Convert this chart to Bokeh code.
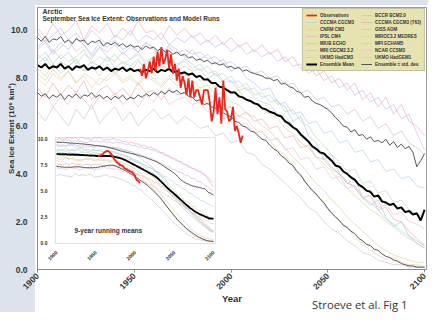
import math
import pandas as pd
from bokeh.plotting import figure
from bokeh.models import (Range1d, LinearAxis, FixedTicker, PrintfTickFormatter,
                          BoxAnnotation, Label, Legend, LegendItem, Title)
from bokeh.embed import file_html
from bokeh.resources import INLINE

# ---------------- data ----------------
x_ticks = [1900, 1950, 2000, 2050, 2100]
y_ticks = [0, 2, 4, 6, 8, 10]
inset_x_ticks = [1900, 1950, 2000, 2050, 2100]
inset_y_ticks = [0, 2.5, 5, 7.5, 10]

obs_years = list(range(1953, 2007))
observations = [8.4, 8.1, 8.6, 8.0, 8.3, 8.7, 8.2, 8.9, 8.3, 9.1,
                8.5, 9.3, 8.6, 8.8, 9.2, 8.4, 9.0, 8.2, 8.6, 7.9,
                8.4, 7.6, 8.1, 7.8, 7.3, 8.0, 7.2, 7.9, 7.2, 7.5,
                7.5, 7.2, 6.9, 7.5, 7.5, 7.5, 7.0, 6.2, 6.6, 7.6,
                6.5, 7.2, 6.1, 7.9, 6.7, 6.6, 6.2, 6.3, 6.8, 5.8,
                6.0, 5.7, 5.3, 5.6]

ens_years = list(range(1900, 2101, 2))
ensemble_mean = [8.55, 8.45, 8.60, 8.40, 8.50, 8.45, 8.60, 8.40, 8.50, 8.35,
                 8.50, 8.45, 8.55, 8.35, 8.45, 8.40, 8.50, 8.35, 8.45, 8.30,
                 8.40, 8.35, 8.45, 8.30, 8.40, 8.30, 8.35, 8.25, 8.35, 8.30,
                 8.40, 8.25, 8.35, 8.30, 8.40, 8.25, 8.30, 8.20, 8.25, 8.15,
                 8.20, 8.05, 8.10, 7.95, 7.95, 7.80, 7.80, 7.65, 7.60, 7.50,
                 7.40, 7.40, 7.25, 7.20, 7.10, 7.05, 6.95, 6.90, 6.75, 6.70,
                 6.60, 6.55, 6.45, 6.40, 6.20, 6.10, 5.95, 5.85, 5.65, 5.50,
                 5.35, 5.15, 5.05, 4.90, 4.85, 4.70, 4.55, 4.35, 4.30, 4.10,
                 4.00, 3.85, 3.75, 3.55, 3.45, 3.30, 3.25, 3.05, 3.10, 2.85,
                 2.80, 2.70, 2.75, 2.55, 2.60, 2.40, 2.45, 2.30, 2.35, 2.05,
                 2.50]
ensemble_plus_std = [9.70, 9.55, 9.75, 9.50, 9.65, 9.60, 9.75, 9.50, 9.60, 9.45,
                     9.65, 9.55, 9.60, 9.40, 9.55, 9.50, 9.60, 9.35, 9.50, 9.40,
                     9.50, 9.35, 9.45, 9.30, 9.40, 9.30, 9.35, 9.20, 9.35, 9.25,
                     9.30, 9.15, 9.25, 9.10, 9.15, 9.00, 9.10, 8.95, 9.00, 8.85,
                     8.90, 8.75, 8.80, 8.70, 8.75, 8.60, 8.65, 8.55, 8.60, 8.45,
                     8.50, 8.40, 8.45, 8.30, 8.35, 8.25, 8.20, 8.15, 8.10, 8.00,
                     8.00, 7.90, 7.95, 7.75, 7.80, 7.65, 7.60, 7.45, 7.40, 7.20,
                     7.25, 7.05, 6.95, 6.90, 6.80, 6.70, 6.55, 6.35, 6.20, 6.00,
                     5.95, 5.75, 5.85, 5.60, 5.65, 5.45, 5.55, 5.35, 5.40, 5.30,
                     5.45, 5.20, 5.35, 5.10, 5.25, 5.05, 5.15, 4.90, 4.30, 4.55,
                     4.85]
ensemble_minus_std = [7.40, 7.25, 7.35, 7.15, 7.30, 7.20, 7.35, 7.10, 7.30, 7.20,
                      7.35, 7.15, 7.30, 7.25, 7.40, 7.20, 7.30, 7.15, 7.25, 7.10,
                      7.25, 7.15, 7.30, 7.10, 7.20, 7.15, 7.30, 7.20, 7.35, 7.25,
                      7.40, 7.30, 7.45, 7.35, 7.50, 7.40, 7.50, 7.35, 7.40, 7.25,
                      7.20, 7.05, 7.10, 6.90, 6.95, 6.80, 6.75, 6.60, 6.55, 6.45,
                      6.40, 6.20, 6.15, 6.00, 5.95, 5.80, 5.75, 5.60, 5.45, 5.40,
                      5.20, 5.05, 4.95, 4.75, 4.65, 4.45, 4.35, 4.10, 3.95, 3.70,
                      3.50, 3.30, 3.15, 2.95, 2.80, 2.55, 2.35, 2.20, 2.05, 1.85,
                      1.75, 1.60, 1.50, 1.30, 1.20, 1.05, 1.00, 0.85, 0.80, 0.65,
                      0.55, 0.50, 0.40, 0.35, 0.25, 0.20, 0.15, 0.15, 0.10, 0.10,
                      0.10]

model_years = list(range(1900, 2101, 4))
ipsl_cm4 = [10.1, 9.7, 10.3, 9.8, 10.0, 10.4, 9.6, 10.2, 9.9, 10.3,
            9.7, 10.1, 9.8, 10.4, 9.9, 10.0, 9.6, 10.2, 9.8, 10.1,
            9.7, 9.9, 9.5, 9.8, 9.4, 9.7, 9.3, 9.5, 9.1, 9.4,
            9.0, 9.2, 8.7, 8.9, 8.4, 8.6, 8.1, 8.3, 7.8, 8.0,
            7.5, 7.8, 7.1, 7.4, 6.8, 7.2, 6.5, 6.9, 6.2, 6.0,
            5.6]
bccr_bcm2 = [9.3, 9.6, 9.1, 9.5, 9.2, 9.7, 9.4, 9.0, 9.5, 9.3,
             9.6, 9.2, 9.4, 9.1, 9.5, 9.3, 9.0, 9.4, 9.2, 8.9,
             9.2, 8.8, 9.0, 8.6, 8.8, 8.3, 8.5, 8.0, 7.8, 7.5,
             7.6, 7.0, 6.8, 6.2, 6.4, 5.6, 5.3, 4.6, 4.8, 4.0,
             3.6, 3.8, 3.0, 2.7, 2.9, 2.2, 1.8, 2.0, 1.4, 1.1,
             0.9]
cnrm_cm3 = [8.8, 9.1, 8.6, 9.0, 8.7, 8.9, 9.2, 8.6, 8.9, 8.7,
            9.0, 8.6, 8.8, 9.1, 8.7, 8.9, 8.5, 8.8, 8.6, 8.7,
            8.4, 8.6, 8.2, 8.3, 7.9, 8.1, 7.6, 7.8, 7.3, 7.4,
            7.0, 7.1, 6.6, 6.7, 6.2, 6.0, 5.5, 5.2, 4.8, 4.5,
            4.1, 4.2, 3.6, 3.7, 3.2, 3.3, 2.8, 2.9, 2.5, 2.3,
            2.2]
miub_echo = [9.9, 9.5, 9.8, 10.1, 9.6, 9.9, 9.5, 10.0, 9.7, 9.4,
             9.8, 9.6, 10.0, 9.5, 9.8, 9.6, 9.9, 9.4, 9.7, 9.5,
             9.8, 9.4, 9.6, 9.3, 9.5, 9.1, 9.4, 9.0, 9.2, 8.9,
             9.1, 8.7, 8.9, 8.5, 8.6, 8.2, 8.4, 7.9, 8.1, 7.6,
             7.8, 7.3, 7.5, 7.0, 7.2, 6.7, 6.9, 6.3, 6.5, 5.7,
             5.0]
ukmo_hadcm3 = [8.0, 7.7, 8.2, 7.9, 8.3, 7.8, 8.1, 7.6, 8.0, 7.9,
               8.2, 7.8, 8.0, 7.7, 8.1, 7.9, 7.6, 8.0, 7.7, 7.8,
               7.5, 7.6, 7.2, 7.3, 6.9, 6.8, 6.4, 6.3, 5.9, 5.7,
               5.4, 5.0, 4.8, 4.3, 4.0, 3.5, 3.2, 2.7, 2.4, 2.0,
               1.8, 1.3, 1.1, 0.8, 0.6, 0.4, 0.5, 0.3, 0.2, 0.2,
               0.1]
mri_cgcm232 = [6.6, 6.2, 6.8, 6.4, 6.0, 6.7, 6.3, 6.9, 6.1, 6.5,
               6.8, 6.2, 6.6, 6.0, 6.4, 6.7, 6.3, 6.5, 6.1, 6.4,
               6.2, 5.9, 6.0, 5.6, 5.7, 5.3, 5.4, 4.9, 4.8, 4.4,
               4.2, 3.9, 3.6, 3.3, 3.0, 2.6, 2.4, 2.0, 1.7, 1.5,
               1.2, 1.0, 0.7, 0.6, 0.4, 0.3, 0.2, 0.2, 0.1, 0.1,
               0.1]
cccma_cgcm3_t63 = [7.6, 7.2, 7.8, 7.3, 7.7, 7.4, 7.9, 7.1, 7.5, 7.7,
                   7.3, 7.6, 7.2, 7.8, 7.4, 7.5, 7.1, 7.6, 7.3, 7.4,
                   7.2, 7.3, 6.9, 7.1, 6.7, 6.8, 6.4, 6.6, 6.2, 6.3,
                   5.9, 6.0, 5.5, 5.6, 5.1, 5.2, 4.7, 4.6, 4.2, 4.0,
                   3.6, 3.5, 3.0, 3.1, 2.5, 2.6, 2.1, 2.0, 1.6, 1.3,
                   1.0]
cccma_cgcm3 = [8.6, 8.9, 8.4, 8.7, 8.5, 8.8, 8.3, 8.7, 8.5, 8.9,
               8.4, 8.7, 8.5, 8.8, 8.3, 8.6, 8.4, 8.7, 8.3, 8.5,
               8.3, 8.4, 8.0, 8.2, 7.8, 7.9, 7.5, 7.6, 7.2, 7.0,
               6.9, 6.5, 6.4, 6.0, 5.7, 5.4, 5.0, 4.7, 4.3, 4.0,
               3.7, 3.4, 3.0, 2.8, 2.5, 2.1, 1.9, 1.6, 1.4, 1.2,
               1.0]
giss_aom = [9.2, 9.5, 9.0, 9.3, 9.6, 9.1, 9.4, 8.9, 9.3, 9.1,
            9.4, 9.0, 9.3, 9.1, 9.5, 9.2, 8.9, 9.3, 9.0, 9.2,
            9.0, 9.1, 8.8, 8.9, 8.6, 8.7, 8.4, 8.5, 8.2, 8.3,
            8.0, 8.1, 7.7, 7.8, 7.4, 7.5, 7.1, 7.2, 6.8, 6.9,
            6.5, 6.7, 6.2, 6.4, 5.9, 6.1, 5.6, 5.8, 5.3, 5.1,
            4.8]
miroc32_medres = [8.2, 7.9, 8.4, 8.0, 8.3, 7.8, 8.2, 8.0, 7.7, 8.1,
                  8.3, 7.9, 8.1, 7.8, 8.2, 8.0, 7.7, 8.1, 7.9, 7.8,
                  7.9, 7.6, 7.7, 7.3, 7.4, 7.0, 6.9, 6.5, 6.4, 6.0,
                  5.8, 5.4, 5.1, 4.7, 4.4, 4.0, 3.6, 3.3, 2.9, 2.6,
                  2.2, 1.9, 1.6, 1.3, 1.0, 0.8, 0.6, 0.5, 0.4, 0.3,
                  0.3]
mpi_echam5 = [9.0, 8.7, 9.2, 8.8, 9.1, 8.6, 9.0, 8.8, 9.3, 8.9,
              8.7, 9.1, 8.8, 9.0, 8.6, 8.9, 8.7, 9.0, 8.5, 8.8,
              8.6, 8.3, 8.5, 8.1, 8.2, 7.8, 7.9, 7.5, 7.6, 7.2,
              7.3, 6.9, 7.0, 6.5, 6.6, 6.1, 6.2, 5.7, 5.8, 5.3,
              5.4, 4.9, 5.0, 4.5, 4.6, 4.1, 4.2, 3.8, 3.9, 3.5,
              3.4]
ncar_ccsm3 = [7.0, 7.4, 6.8, 7.2, 6.9, 7.5, 7.1, 6.7, 7.3, 7.0,
              7.4, 6.9, 7.2, 6.8, 7.3, 7.0, 7.5, 6.9, 7.1, 7.2,
              6.9, 7.0, 6.6, 6.7, 6.3, 6.4, 6.0, 6.1, 5.7, 5.8,
              5.4, 5.5, 5.0, 5.1, 4.6, 4.7, 4.2, 4.3, 3.8, 3.9,
              3.4, 3.5, 3.0, 3.1, 2.6, 2.7, 2.3, 2.4, 2.0, 1.9,
              1.7]
ukmo_hadgem1 = [8.4, 8.1, 8.6, 8.2, 8.5, 8.8, 8.3, 8.5, 8.1, 8.6,
                8.2, 8.5, 8.3, 8.7, 8.4, 8.2, 8.6, 8.3, 8.4, 8.1,
                8.2, 7.9, 8.0, 7.6, 7.7, 7.4, 7.5, 7.1, 7.0, 6.7,
                6.5, 6.3, 5.9, 5.7, 5.3, 5.1, 4.7, 4.4, 4.1, 3.7,
                3.4, 3.1, 2.8, 2.5, 2.3, 2.0, 1.8, 1.5, 1.3, 1.1,
                0.9]

left_models = [("CCCMA CGCM3", "#a9d3d0", cccma_cgcm3),
               ("CNRM CM3", "#b8d9b0", cnrm_cm3),
               ("IPSL CM4", "#e9a6c2", ipsl_cm4),
               ("MIUB ECHO", "#c8b6e2", miub_echo),
               ("MRI CGCM2.3.2", "#c4c4c4", mri_cgcm232),
               ("UKMO HadCM3", "#f1c9a2", ukmo_hadcm3)]
right_models = [("BCCR BCM2.0", "#a9c3e6", bccr_bcm2),
                ("CCCMA CGCM3 (T63)", "#e6aaaa", cccma_cgcm3_t63),
                ("GISS AOM", "#d6b3dc", giss_aom),
                ("MIROC3.2 MEDRES", "#d8d29e", miroc32_medres),
                ("MPI ECHAM5", "#b2cce0", mpi_echam5),
                ("NCAR CCSM3", "#f0bcd3", ncar_ccsm3),
                ("UKMO HadGEM1", "#c9d2a4", ukmo_hadgem1)]

FONT = "Liberation Sans"
TXT = "#333333"
BLUE = "#dde3ec"

def running(vals, window, minp=1):
    return pd.Series(vals).rolling(window, center=True, min_periods=minp).mean().tolist()

# ---------------- figure ----------------
p = figure(width=428, height=312, output_backend="svg", toolbar_location=None,
           x_range=Range1d(1900, 2101), y_range=Range1d(0, 10.96),
           min_border_left=37, min_border_right=2, min_border_top=7,
           min_border_bottom=43)
p.border_fill_color = None
p.background_fill_color = "white"
p.styles = {"background": ("linear-gradient(to bottom, %s 0px, %s 5px, transparent 5px), "
                           "linear-gradient(to right, %s 0px, %s 35px, #ffffff 35px)")
                          % (BLUE, BLUE, BLUE, BLUE)}
p.outline_line_color = "#9a9a9a"
p.grid.visible = False

p.extra_x_ranges = {"inset": Range1d(1875.8, 2371.3)}
p.extra_y_ranges = {"inset": Range1d(-2.596, 22.6)}

# main axes
p.xaxis.ticker = FixedTicker(ticks=x_ticks)
p.xaxis.major_label_orientation = math.pi / 4
p.xaxis.axis_label = "Year"
p.yaxis.ticker = FixedTicker(ticks=y_ticks)
p.yaxis.formatter = PrintfTickFormatter(format="%.1f")
p.yaxis.axis_label = "\u00a0" * 9 + "Sea Ice Extent (10\u2076 km\u00b2)"
for ax in (p.xaxis[0], p.yaxis[0]):
    ax.axis_line_color = "#8a8a8a"
    ax.minor_tick_line_color = None
    ax.major_label_text_font = FONT
    ax.major_label_text_font_style = "bold"
    ax.major_label_text_font_size = "8.5px"
    ax.major_label_text_color = TXT
    ax.axis_label_text_font = FONT
    ax.axis_label_text_font_style = "bold"
    ax.axis_label_text_color = TXT
p.xaxis.major_tick_line_color = "#8a8a8a"
p.xaxis.major_tick_out = 3
p.xaxis.major_tick_in = 0
p.xaxis.major_label_standoff = 2
p.xaxis.axis_label_standoff = -2
p.xaxis.axis_label_text_font_size = "9.5px"
p.yaxis.major_tick_line_color = None
p.yaxis.major_label_standoff = 4
p.yaxis.axis_label_standoff = -8
p.yaxis.axis_label_text_font_size = "8px"

# main lines (lowest level so the inset box covers them)
model_renderers = {}
for name, color, vals in left_models + right_models:
    model_renderers[name] = p.line(model_years, vals, line_color=color, line_width=1,
                                   line_alpha=0.65, level="image")
r_plus = p.line(ens_years, ensemble_plus_std, line_color="#555555", line_width=1, level="image")
p.line(ens_years, ensemble_minus_std, line_color="#555555", line_width=1, level="image")
r_mean = p.line(ens_years, ensemble_mean, line_color="black", line_width=2, level="image")
r_obs = p.line(obs_years, observations, line_color="#e8281e", line_width=1.8, level="image")

# inset
box = BoxAnnotation(left=1898.7, right=2102.5, bottom=-0.1, top=10.1,
                    x_range_name="inset", y_range_name="inset",
                    fill_color="white", fill_alpha=1.0, line_color="#9a9a9a",
                    line_width=1, level="underlay")
p.add_layout(box)
kw = dict(x_range_name="inset", y_range_name="inset")
for name, color, vals in left_models + right_models:
    p.line(model_years, running(vals, 3), line_color=color, line_width=1, line_alpha=0.65, **kw)
p.line(ens_years, running(ensemble_plus_std, 5), line_color="#555555", line_width=1, **kw)
p.line(ens_years, running(ensemble_minus_std, 5), line_color="#555555", line_width=1, **kw)
p.line(ens_years, running(ensemble_mean, 5), line_color="black", line_width=1.8, **kw)
p.line(obs_years, running(observations, 9, 5), line_color="#e8281e", line_width=1.8, **kw)

iy = LinearAxis(x_range_name="inset", y_range_name="inset",
                ticker=FixedTicker(ticks=inset_y_ticks),
                formatter=PrintfTickFormatter(format="%.1f"),
                fixed_location=1898.7)
ix = LinearAxis(x_range_name="inset", y_range_name="inset",
                ticker=FixedTicker(ticks=inset_x_ticks), fixed_location=-0.1,
                major_label_orientation=math.pi / 4)
for ax in (iy, ix):
    ax.axis_line_color = None
    ax.major_tick_line_color = None
    ax.minor_tick_line_color = None
    ax.major_label_text_font = FONT
    ax.major_label_text_font_style = "bold"
    ax.major_label_text_font_size = "5px"
    ax.major_label_text_color = TXT
    ax.major_label_standoff = 2
p.add_layout(iy, "left")
p.add_layout(ix, "below")

p.add_layout(Label(x=1923, y=1.15, text="9-year running means", text_font=FONT,
                   text_font_style="bold", text_font_size="6.5px", text_color=TXT,
                   text_baseline="middle", **kw))

# titles
p.add_layout(Label(x=1902.6, y=10.93, text="Arctic", text_font=FONT, text_font_style="bold",
                   text_font_size="7px", text_color=TXT, text_baseline="top"))
p.add_layout(Label(x=1902.6, y=10.63, text="September Sea Ice Extent: Observations and Model Runs",
                   text_font=FONT, text_font_style="bold", text_font_size="6.5px",
                   text_color=TXT, text_baseline="top"))

# legend
items = [LegendItem(label="Observations", renderers=[r_obs])]
items += [LegendItem(label=n, renderers=[model_renderers[n]]) for n, _, _ in left_models]
items += [LegendItem(label="Ensemble Mean", renderers=[r_mean])]
items += [LegendItem(label=n, renderers=[model_renderers[n]]) for n, _, _ in right_models]
items += [LegendItem(label="Ensemble \u00b1 std. dev.", renderers=[r_plus])]
legend = Legend(items=items, location="top_right", nrows=8, margin=1, padding=3,
                spacing=1, glyph_width=11, glyph_height=6, label_height=6,
                label_width=40, label_standoff=3,
                label_text_font=FONT, label_text_font_style="bold",
                label_text_font_size="4.5px", label_text_color=TXT,
                background_fill_color="#e6e3b0", background_fill_alpha=1.0,
                border_line_color="#a0a0a0", border_line_width=1)
p.add_layout(legend)

# credit line under the axis title
p.add_layout(Title(text="Stroeve et al. Fig 1", align="right", offset=19, standoff=-22,
                   vertical_align="top", text_font="Open Sans", text_font_style="normal",
                   text_font_size="11.3px", text_color=TXT), "below")

open("out.html", "w").write(file_html(p, INLINE))
